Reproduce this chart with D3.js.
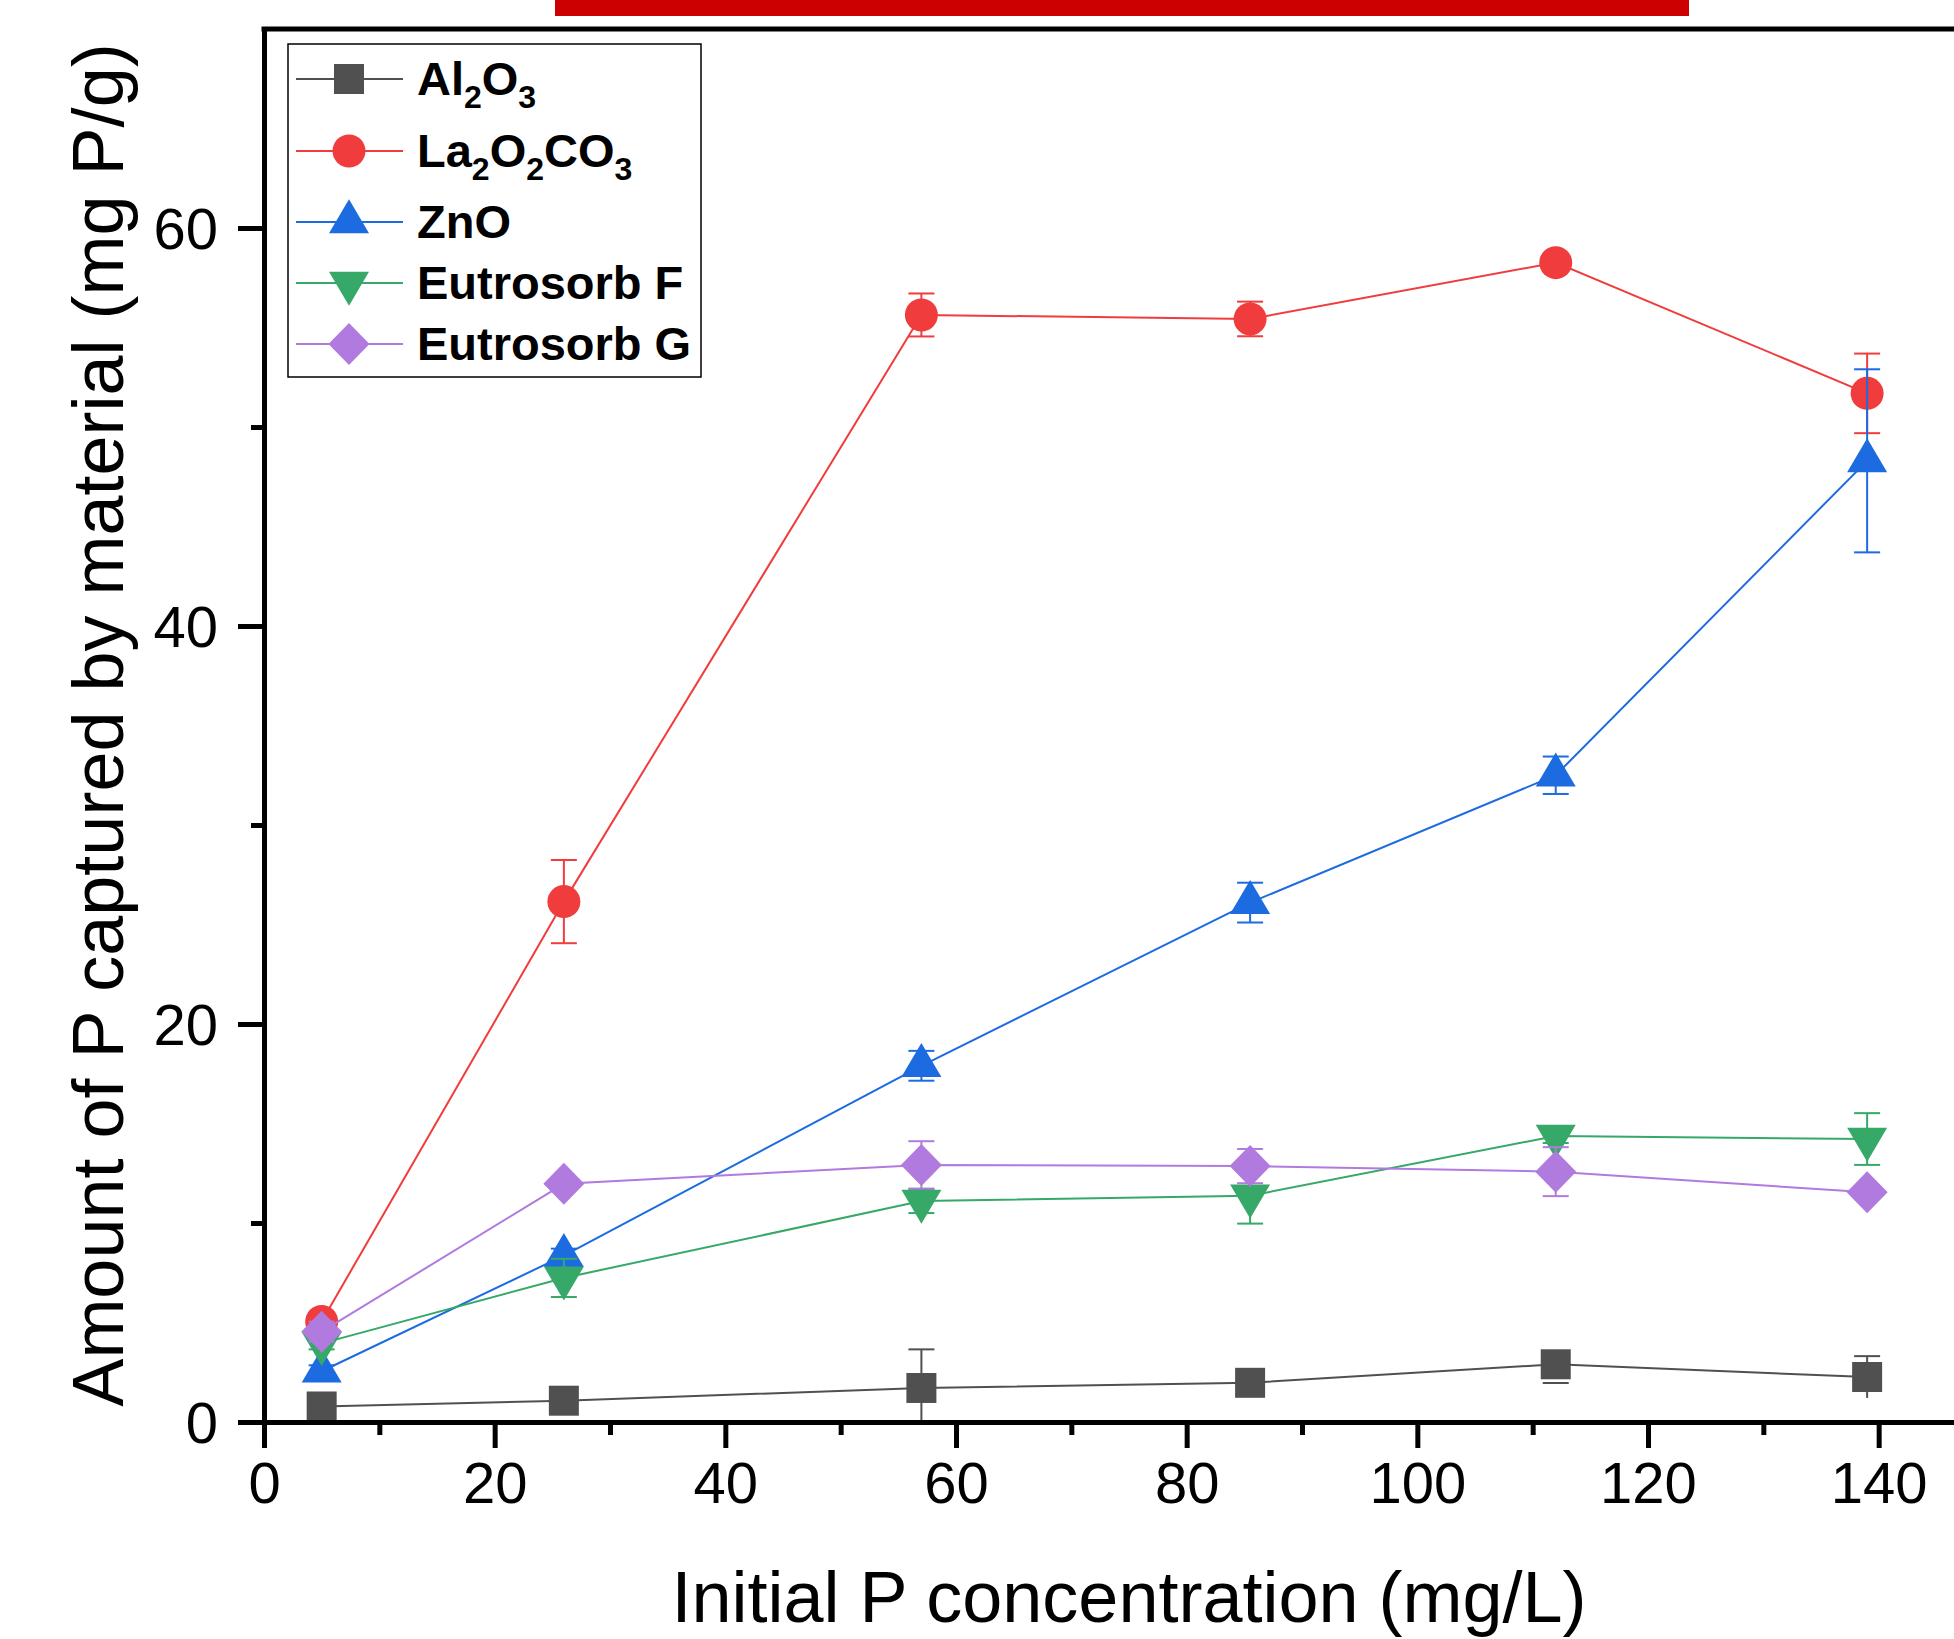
<!DOCTYPE html>
<html>
<head>
<meta charset="utf-8">
<script src="https://cdn.jsdelivr.net/npm/d3@7"></script>
<style>
    body { margin: 0; background: #ffffff; }
    svg { display: block; font-family: "Liberation Sans", Arial, sans-serif; }
</style>
</head>
<body>
<div id="chart"></div>
<script>
// Initial P concentration (mg/L)
const concentrations = [5, 26, 57, 85.5, 112, 139];

// Amount captured (mg P/g) and error bars per material
const al2o3 = [0.78, 1.07, 1.71, 1.97, 2.90, 2.26];
const al2o3Err = [0.2, 0.2, 1.94, 0.3, 0.3, 1.05];
const la2o2co3 = [5.05, 26.15, 55.63, 55.43, 58.26, 51.69];
const la2o2co3Err = [0.3, 2.09, 1.08, 0.87, 0.3, 2.0];
const zno = [2.55, 8.36, 17.9, 26.1, 32.5, 48.3];
const znoErr = [0.3, 0.35, 0.75, 1.0, 0.94, 4.6];
const eutroF = [3.95, 7.24, 11.1, 11.37, 14.37, 14.22];
const eutroFErr = [0.3, 0.96, 0.6, 1.4, 0.35, 1.3];
const eutroG = [4.54, 11.97, 12.92, 12.86, 12.58, 11.54];
const eutroGErr = [0.5, 0.3, 1.19, 0.86, 1.23, 0.3];

// legend labels: [text, "sub" for subscript] pieces
const seriesNames = [
    [["Al", ""], ["2", "sub"], ["O", ""], ["3", "sub"]],
    [["La", ""], ["2", "sub"], ["O", ""], ["2", "sub"], ["CO", ""], ["3", "sub"]],
    [["ZnO", ""]],
    [["Eutrosorb F", ""]],
    [["Eutrosorb G", ""]]
];

const xTicks = [0, 20, 40, 60, 80, 100, 120, 140];
const yTicks = [0, 20, 40, 60];

document.addEventListener("DOMContentLoaded", function () {
    const width = 1954;
    const height = 1639;

    const series = [
        { values: al2o3, err: al2o3Err, color: "#505050", shape: "square" },
        { values: la2o2co3, err: la2o2co3Err, color: "#f03c3c", shape: "circle" },
        { values: zno, err: znoErr, color: "#1c6be0", shape: "up" },
        { values: eutroF, err: eutroFErr, color: "#36a867", shape: "down" },
        { values: eutroG, err: eutroGErr, color: "#b07ade", shape: "diamond" }
    ];

    // marker paths, centred like Origin does (triangles on their centroid)
    function markerPath(shape) {
        switch (shape) {
            case "square": return "M-15,-15H15V15H-15Z";
            case "circle": return d3.symbol(d3.symbolCircle, Math.PI * 16.5 * 16.5)();
            case "up": return "M0,-22.7L20,11.3L-20,11.3Z";
            case "down": return "M0,22.7L20,-11.3L-20,-11.3Z";
            case "diamond": return "M0,-21L20.5,0L0,21L-20.5,0Z";
        }
    }

    const x = d3.scaleLinear().domain([0, 150]).range([264, 1994]);
    const y = d3.scaleLinear().domain([0, 70]).range([1422, 29]);

    const svg = d3.select("#chart")
        .append("svg")
        .attr("width", width)
        .attr("height", height);

    svg.append("rect")
        .attr("width", width)
        .attr("height", height)
        .attr("fill", "#ffffff");

    // red banner cut off at the top
    svg.append("rect")
        .attr("x", 555)
        .attr("y", 0)
        .attr("width", 1134)
        .attr("height", 16)
        .attr("fill", "#cc0000");

    // lines, error bars, markers
    const line = d3.line()
        .x((d, i) => x(concentrations[i]))
        .y(d => y(d));

    series.forEach(s => {
        const g = svg.append("g");

        g.append("path")
            .attr("d", line(s.values))
            .attr("fill", "none")
            .attr("stroke", s.color)
            .attr("stroke-width", 2);

        const eb = g.selectAll(".err")
            .data(s.values)
            .join("g")
            .attr("stroke", s.color)
            .attr("stroke-width", 2);

        eb.append("line")
            .attr("x1", (d, i) => x(concentrations[i]))
            .attr("x2", (d, i) => x(concentrations[i]))
            .attr("y1", (d, i) => y(Math.max(0, d - s.err[i])))
            .attr("y2", (d, i) => y(d + s.err[i]));

        [-1, 1].forEach(sign => {
            eb.filter((d, i) => d + sign * s.err[i] > 0)
                .append("line")
                .attr("x1", (d, i) => x(concentrations[i]) - 13)
                .attr("x2", (d, i) => x(concentrations[i]) + 13)
                .attr("y1", (d, i) => y(d + sign * s.err[i]))
                .attr("y2", (d, i) => y(d + sign * s.err[i]));
        });

        g.selectAll(".marker")
            .data(s.values)
            .join("path")
            .attr("d", markerPath(s.shape))
            .attr("transform", (d, i) => `translate(${x(concentrations[i])},${y(d)})`)
            .attr("fill", s.color);
    });

    // axes
    const xAxis = svg.append("g")
        .attr("transform", `translate(0,${y(0)})`)
        .call(d3.axisBottom(x).tickValues(xTicks).tickSize(26).tickPadding(14).tickSizeOuter(0));
    xAxis.selectAll("text").attr("font-size", 58).attr("fill", "#000");

    svg.append("g")
        .attr("transform", `translate(0,${y(0)})`)
        .call(d3.axisBottom(x).tickValues([10, 30, 50, 70, 90, 110, 130]).tickSize(13).tickFormat("").tickSizeOuter(0))
        .call(g => g.select(".domain").remove());

    const yAxis = svg.append("g")
        .attr("transform", `translate(${x(0)},0)`)
        .call(d3.axisLeft(y).tickValues(yTicks).tickSize(26).tickPadding(20).tickSizeOuter(0));
    yAxis.selectAll("text").attr("font-size", 58).attr("fill", "#000").attr("dy", "0.35em");

    svg.append("g")
        .attr("transform", `translate(${x(0)},0)`)
        .call(d3.axisLeft(y).tickValues([10, 30, 50]).tickSize(13).tickFormat("").tickSizeOuter(0))
        .call(g => g.select(".domain").remove());

    svg.selectAll(".domain").attr("stroke-width", 5).attr("stroke", "#000");
    svg.selectAll(".tick line").attr("stroke-width", 5).attr("stroke", "#000");

    // top frame line
    svg.append("line")
        .attr("x1", x(0) - 2.5)
        .attr("x2", width)
        .attr("y1", y(70))
        .attr("y2", y(70))
        .attr("stroke", "#000")
        .attr("stroke-width", 5);

    // axis titles
    svg.append("text")
        .attr("x", 1129)
        .attr("y", 1622)
        .attr("text-anchor", "middle")
        .attr("font-size", 72)
        .text("Initial P concentration (mg/L)");

    svg.append("text")
        .attr("transform", "translate(123,725) rotate(-90)")
        .attr("text-anchor", "middle")
        .attr("font-size", 72)
        .text("Amount of P captured by material (mg P/g)");

    // legend
    const legend = svg.append("g");
    legend.append("rect")
        .attr("x", 288)
        .attr("y", 44)
        .attr("width", 413)
        .attr("height", 333)
        .attr("fill", "#fff")
        .attr("stroke", "#000")
        .attr("stroke-width", 1.5);

    const rowY = [79, 151, 222, 283, 344];
    series.forEach((s, i) => {
        const row = legend.append("g").attr("transform", `translate(0,${rowY[i]})`);
        row.append("line")
            .attr("x1", 296)
            .attr("x2", 403)
            .attr("stroke", s.color)
            .attr("stroke-width", 2);
        row.append("path")
            .attr("d", markerPath(s.shape))
            .attr("transform", "translate(349,0)")
            .attr("fill", s.color);

        const t = row.append("text")
            .attr("x", 417)
            .attr("y", 16)
            .attr("font-size", 47)
            .attr("font-weight", "bold");
        let shifted = false;
        seriesNames[i].forEach(([txt, kind]) => {
            const sp = t.append("tspan").text(txt);
            if (kind === "sub") {
                sp.attr("font-size", 32).attr("dy", shifted ? 0 : 13);
                shifted = true;
            } else {
                sp.attr("dy", shifted ? -13 : 0);
                shifted = false;
            }
        });
    });
});
</script>
</body>
</html>
